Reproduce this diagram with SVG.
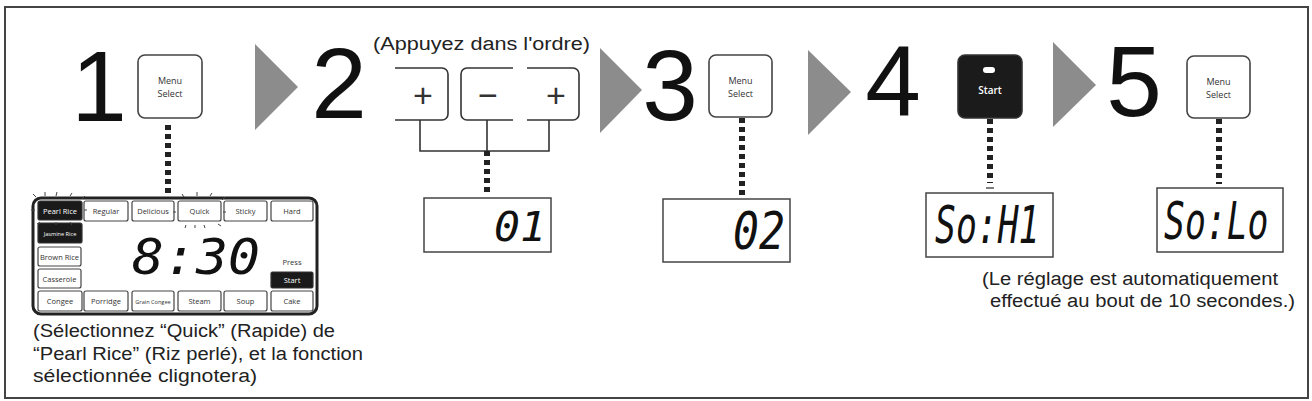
<svg xmlns="http://www.w3.org/2000/svg" width="1312" height="401" viewBox="0 0 1312 401">
<style>
.frame{fill:#fff;stroke:#444;stroke-width:2}
.big{font-family:"Liberation Sans",Arial,sans-serif;font-size:100px;fill:#111;text-anchor:middle}
.cap{font-family:"Liberation Sans",Arial,sans-serif;font-size:18px;fill:#222}
.btn{fill:#fff;stroke:#444;stroke-width:1.6}
.btnd{fill:#1b1b1b;stroke:#333;stroke-width:1.6}
.btxt{font-family:"Open Sans","Liberation Sans",sans-serif;font-size:9px;fill:#333;text-anchor:middle}
.wtxt{font-family:"Open Sans","Liberation Sans",sans-serif;font-size:10px;font-weight:600;fill:#fff;text-anchor:middle}
.dash{fill:none;stroke:#222;stroke-width:6;stroke-dasharray:5 4}
.line{fill:none;stroke:#333;stroke-width:1.6}
.arrow{fill:#8c8c8c}
.lcd{fill:#fff;stroke:#444;stroke-width:1.5}
.seg{font-family:"DejaVu Sans Mono","Liberation Mono",monospace;font-style:oblique;fill:#111}
.panel{fill:#fff;stroke:#222;stroke-width:3}
.pb{fill:#fff;stroke:#444;stroke-width:1.2}
.pd{fill:#1a1a1a;stroke:#333;stroke-width:1.2}
.pt{font-family:"Open Sans","Liberation Sans",sans-serif;font-size:7.5px;fill:#333;text-anchor:middle}
.ptw{font-family:"Open Sans","Liberation Sans",sans-serif;font-size:7.5px;fill:#fff;text-anchor:middle}
.small{font-size:5.6px}
.spark{stroke:#444;stroke-width:1;fill:none}
.pm{font-family:"Liberation Sans",Arial,sans-serif;font-size:34px;fill:#333;text-anchor:middle}
</style>
<rect class="frame" x="5" y="7" width="1303" height="391"/>

<g id="arrows">
<polygon class="arrow" points="255,44 298,87 255,130"/>
<polygon class="arrow" points="600,48 642,90 600,133"/>
<polygon class="arrow" points="808,50 851,92 808,135"/>
<polygon class="arrow" points="1053,42 1096,85 1053,127"/>
</g>

<g id="connectors">
<line class="dash" x1="168" y1="125" x2="168" y2="193"/>
<path class="line" d="M420,120 V151 H549 V120 M487,120 V151"/>
<line class="dash" x1="487" y1="151" x2="487" y2="196"/>
<line class="dash" x1="742" y1="118" x2="742" y2="196"/>
<line class="dash" x1="990" y1="119" x2="990" y2="183"/>
<line x1="986" y1="188" x2="994" y2="188" stroke="#555" stroke-width="1.5"/>
<line class="dash" x1="1219" y1="119" x2="1219" y2="184"/>
</g>

<g id="step1">
<text class="big" x="99" y="121">1</text>
<rect class="btn" x="138" y="55" width="64" height="63" rx="7"/>
<text class="btxt" x="170" y="84">Menu</text>
<text class="btxt" x="170" y="97">Select</text>
</g>

<g id="panel">
<rect class="panel" x="33" y="198" width="284" height="116" rx="8"/>
<rect class="pd" x="38" y="201" width="44" height="19" rx="2"/><text class="ptw" x="60" y="213.5">Pearl Rice</text>
<rect class="pb" x="84" y="201" width="44" height="20" rx="2"/><text class="pt" x="106" y="214">Regular</text>
<rect class="pb" x="132" y="201" width="42" height="20" rx="2"/><text class="pt" x="153" y="214">Delicious</text>
<rect class="pb" x="178" y="201" width="43" height="20" rx="2"/><text class="pt" x="199.5" y="214">Quick</text>
<rect class="pb" x="224" y="201" width="43" height="20" rx="2"/><text class="pt" x="245.5" y="214">Sticky</text>
<rect class="pb" x="271" y="201" width="42" height="20" rx="2"/><text class="pt" x="292" y="214">Hard</text>
<rect class="pd" x="38" y="223" width="44" height="20" rx="2"/><text class="ptw small" x="60" y="235.5">Jasmine Rice</text>
<rect class="pb" x="38" y="247" width="43" height="19" rx="2"/><text class="pt" x="59.5" y="259.5">Brown Rice</text>
<rect class="pb" x="38" y="269" width="43" height="19" rx="2"/><text class="pt" x="59.5" y="281.5">Casserole</text>
<rect class="pb" x="38" y="291" width="44" height="20" rx="2"/><text class="pt" x="60" y="304">Congee</text>
<rect class="pb" x="84" y="291" width="44" height="20" rx="2"/><text class="pt" x="106" y="304">Porridge</text>
<rect class="pb" x="132" y="291" width="42" height="20" rx="2"/><text class="pt small" x="153" y="303.5">Grain Congee</text>
<rect class="pb" x="178" y="291" width="43" height="20" rx="2"/><text class="pt" x="199.5" y="304">Steam</text>
<rect class="pb" x="224" y="291" width="43" height="20" rx="2"/><text class="pt" x="245.5" y="304">Soup</text>
<rect class="pb" x="271" y="291" width="42" height="20" rx="2"/><text class="pt" x="292" y="304">Cake</text>
<text class="pt" x="292" y="265">Press</text>
<rect class="pd" x="271" y="272" width="42" height="16" rx="1.5"/><text class="ptw" x="292" y="283">Start</text>
<text class="seg" x="132" y="274" font-size="50" textLength="128" lengthAdjust="spacingAndGlyphs">8:30</text>
<path class="spark" d="M36,197 l-3,-3 M45,196 l0,-4 M56,196 l1,-4 M70,196 l2,-3 M82,199 l3,-3 M35,210 l-4,0 M84,210 l3,0 M40,222 l-3,2 M56,222 l0,3 M70,222 l2,3 M184,197 l-2,-3 M197,196 l0,-4 M210,196 l2,-3 M222,200 l3,-3 M176,212 l-3,0 M223,212 l3,0 M186,225 l-1,3 M195,225 l0,3 M204,225 l1,3 M218,224 l3,2"/>
</g>

<g id="caption1">
<text class="cap" x="33" y="337" textLength="302" lengthAdjust="spacingAndGlyphs">(Sélectionnez “Quick” (Rapide) de</text>
<text class="cap" x="33" y="360" textLength="330" lengthAdjust="spacingAndGlyphs">“Pearl Rice” (Riz perlé), et la fonction</text>
<text class="cap" x="33" y="382" textLength="224" lengthAdjust="spacingAndGlyphs">sélectionnée clignotera)</text>
</g>

<g id="step2">
<text class="big" x="339" y="118">2</text>
<text class="cap" x="373" y="50" textLength="217" lengthAdjust="spacingAndGlyphs">(Appuyez dans l'ordre)</text>
<path class="line" d="M395,68 H442 a6,6 0 0 1 6,6 V114 a6,6 0 0 1 -6,6 H395"/>
<path class="line" d="M513,68 H467 a6,6 0 0 0 -6,6 V114 a6,6 0 0 0 6,6 H513"/>
<path class="line" d="M527,68 H573 a6,6 0 0 1 6,6 V114 a6,6 0 0 1 -6,6 H527"/>
<text class="pm" x="423" y="107">+</text>
<text class="pm" x="488" y="107">−</text>
<text class="pm" x="556" y="107">+</text>
</g>

<g id="display2">
<rect class="lcd" x="424" y="198" width="127" height="54"/>
<text class="seg" x="494" y="241" font-size="40" textLength="52" lengthAdjust="spacingAndGlyphs">01</text>
</g>

<g id="step3">
<text class="big" x="670" y="120">3</text>
<rect class="btn" x="709" y="55" width="63" height="62" rx="7"/>
<text class="btxt" x="740.5" y="84">Menu</text>
<text class="btxt" x="740.5" y="97">Select</text>
</g>

<g id="display3">
<rect class="lcd" x="663" y="199" width="127" height="63"/>
<text class="seg" transform="translate(733,249) scale(0.83,1)" font-size="52">02</text>
</g>

<g id="step4">
<text class="big" x="893" y="116">4</text>
<rect class="btnd" x="958" y="55" width="64" height="63" rx="7"/>
<rect x="983" y="67" width="12" height="6" rx="3" fill="#fff"/>
<text class="wtxt" x="990" y="94">Start</text>
</g>

<g id="display4">
<rect class="lcd" x="926" y="193" width="127" height="64"/>
<text class="seg" transform="translate(935,243) scale(0.667,1)" font-size="52">So:H1</text>
</g>

<g id="step5">
<text class="big" x="1134" y="116">5</text>
<rect class="btn" x="1187" y="56" width="63" height="62" rx="7"/>
<text class="btxt" x="1218.5" y="85">Menu</text>
<text class="btxt" x="1218.5" y="98">Select</text>
</g>

<g id="display5">
<rect class="lcd" x="1157" y="188" width="126" height="64"/>
<text class="seg" transform="translate(1164,239) scale(0.667,1)" font-size="52">So:Lo</text>
</g>

<g id="caption2">
<text class="cap" x="982" y="285" textLength="296" lengthAdjust="spacingAndGlyphs">(Le réglage est automatiquement</text>
<text class="cap" x="990" y="307" textLength="305" lengthAdjust="spacingAndGlyphs">effectué au bout de 10 secondes.)</text>
</g>
</svg>
